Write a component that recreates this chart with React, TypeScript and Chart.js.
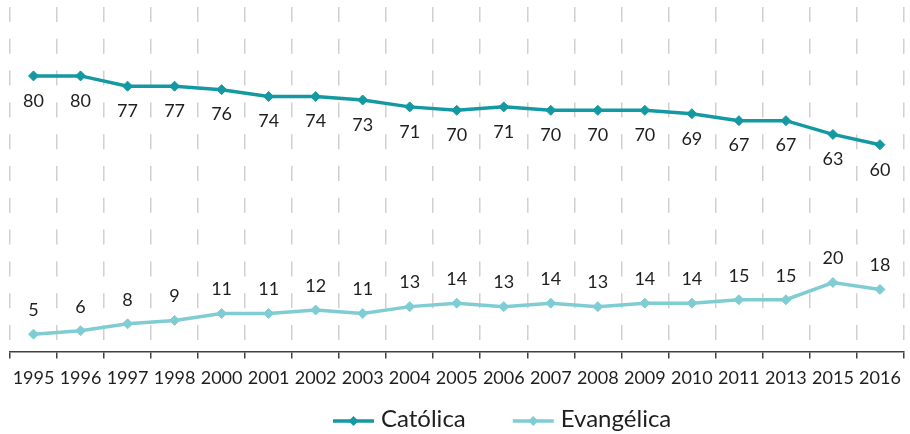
import React, { useEffect, useRef } from "react";
import { Chart, registerables } from "chart.js";

Chart.register(...registerables);

const years = ["1995", "1996", "1997", "1998", "2000", "2001", "2002", "2003", "2004", "2005", "2006", "2007", "2008", "2009", "2010", "2011", "2013", "2015", "2016"];
const catolica = [80, 80, 77, 77, 76, 74, 74, 73, 71, 70, 71, 70, 70, 70, 69, 67, 67, 63, 60];
const evangelica = [5, 6, 8, 9, 11, 11, 12, 11, 13, 14, 13, 14, 13, 14, 14, 15, 15, 20, 18];
const seriesNames = ["Católica", "Evangélica"];
const seriesColors = ["#1499a2", "#7fcdd3"];

const FONT = "Lato";
const TEXT_COLOR = "#1f1f1f";

const dataLabelsPlugin = {
  id: "dataLabels",
  afterDatasetsDraw(chart: any) {
    const ctx = chart.ctx;
    ctx.save();
    ctx.font = `18px ${FONT}`;
    ctx.fillStyle = TEXT_COLOR;
    ctx.textAlign = "center";
    ctx.textBaseline = "middle";
    chart.data.datasets.forEach((ds: any, i: number) => {
      const meta = chart.getDatasetMeta(i);
      const off = i === 0 ? 25 : -24;
      meta.data.forEach((pt: any, j: number) => {
        ctx.fillText(String(ds.data[j]), pt.x, pt.y + off);
      });
    });
    ctx.restore();
  },
};

const customLegendPlugin = {
  id: "customLegend",
  afterDraw(chart: any) {
    const ctx = chart.ctx;
    ctx.save();
    ctx.font = `24px ${FONT}`;
    const lineY = 421;
    const textBase = 427;
    let x = 333;
    chart.data.datasets.forEach((ds: any) => {
      const color = ds.borderColor;
      ctx.strokeStyle = color;
      ctx.lineWidth = 3.5;
      ctx.beginPath();
      ctx.moveTo(x, lineY);
      ctx.lineTo(x + 41, lineY);
      ctx.stroke();
      const cx = x + 20.5;
      const r = 5;
      ctx.fillStyle = color;
      ctx.beginPath();
      ctx.moveTo(cx - r, lineY);
      ctx.lineTo(cx, lineY - r);
      ctx.lineTo(cx + r, lineY);
      ctx.lineTo(cx, lineY + r);
      ctx.closePath();
      ctx.fill();
      ctx.fillStyle = TEXT_COLOR;
      ctx.textAlign = "left";
      ctx.textBaseline = "alphabetic";
      ctx.fillText(ds.label, x + 48, textBase);
      const w = ctx.measureText(ds.label).width;
      x += 48 + w + 47;
    });
    ctx.restore();
  },
};

export default function App() {
  const canvasRef = useRef<HTMLCanvasElement | null>(null);

  useEffect(() => {
    document.body.style.margin = "0";
    const canvas = canvasRef.current;
    if (!canvas) return;
    Chart.defaults.font.family = FONT;
    const datasets = [catolica, evangelica].map((values, i) => ({
      label: seriesNames[i],
      data: values,
      borderColor: seriesColors[i],
      backgroundColor: seriesColors[i],
      borderWidth: 3.5,
      tension: 0,
      pointStyle: "rectRot" as const,
      pointRadius: 5,
      pointBorderWidth: 1,
      pointBackgroundColor: seriesColors[i],
      pointBorderColor: seriesColors[i],
      fill: false,
    }));
    const chart = new Chart(canvas, {
      type: "line",
      data: { labels: years, datasets },
      options: {
        animation: false,
        responsive: false,
        maintainAspectRatio: false,
        devicePixelRatio: 1,
        layout: { padding: { left: 10, right: 3, top: 7, bottom: 36 } },
        plugins: {
          legend: { display: false },
          tooltip: { enabled: false },
        },
        scales: {
          x: {
            offset: true,
            grid: {
              offset: true,
              color: "#d0d0d0",
              lineWidth: 1.5,
              tickColor: "#404040",
              tickWidth: 1.5,
              tickLength: 7,
              tickBorderDash: [],
            },
            border: { display: true, color: "#404040", width: 1.5, dash: [15, 16.8] },
            ticks: {
              color: TEXT_COLOR,
              font: { size: 18, family: FONT },
              padding: 9,
              maxRotation: 0,
              autoSkip: false,
            },
          },
          y: { display: false, min: 0, max: 100 },
        },
      },
      plugins: [dataLabelsPlugin, customLegendPlugin],
    });
    return () => chart.destroy();
  }, []);

  return (
    <div style={{ width: 910, height: 434 }}>
      <canvas ref={canvasRef} width={910} height={434} style={{ width: 910, height: 434, display: "block" }} />
    </div>
  );
}
